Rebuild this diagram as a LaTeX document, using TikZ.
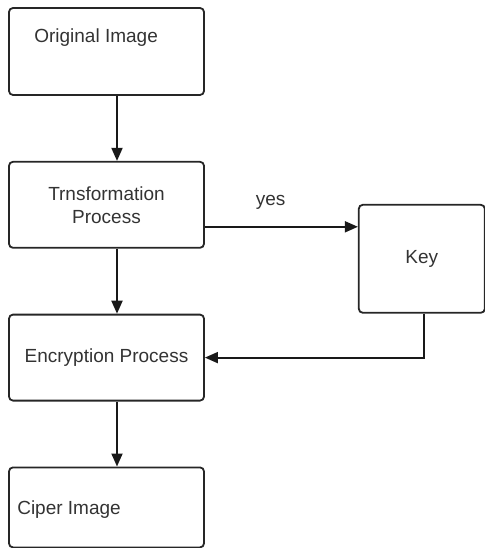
\documentclass[tikz,border=0pt]{standalone}
\usepackage{fontspec}
\setmainfont{Liberation Sans}
\usetikzlibrary{positioning, arrows.meta}

\begin{document}
\begin{tikzpicture}[
x=1pt, y=1pt,
stage/.style={rectangle, rounded corners=4pt, draw=black!85, line width=1.8pt, minimum width=195pt, minimum height=86pt, inner sep=0pt, font=\fontsize{19}{23}\selectfont, align=center, text=black!80},
keybox/.style={stage, minimum width=126pt, minimum height=108pt},
caption/.style={inner sep=0pt, font=\fontsize{19}{23}\selectfont, text=black!80},
flow/.style={-{Triangle[length=13pt,width=11pt]}, line width=1.8pt, draw=black!90},
node distance=65pt
]
\useasboundingbox (0,0) rectangle (484,-548);
%Nodes
\node[stage, minimum height=87pt] (orig)  at (106.5,-51.5)   {};
\node[stage]                      (trans) [below=of orig]    {Trnsformation\\Process};
\node[stage]                      (encr)  [below=of trans]   {Encryption Process};
\node[stage, minimum height=80pt] (ciper) [below=of encr]    {};
\node[keybox]                     (key)   [below right=43pt and 153pt of trans.north east] {Key};

%Texts
\node[caption, anchor=base west] (origtext)  at ([xshift=26pt, yshift=-35pt]orig.north west) {Original Image};
\node[caption, anchor=base west] (cipertext) at ([xshift=9pt, yshift=-7pt]ciper.west)        {Ciper Image};

%Lines
\coordinate (yesstart) at ([yshift=-22pt]trans.east);
\draw[flow] ([xshift=10.5pt]orig.south) -- ([xshift=10.5pt]trans.north);
\draw[flow] ([xshift=10.5pt]trans.south) -- ([xshift=10.5pt]encr.north);
\draw[flow] ([xshift=10.5pt]encr.south) -- ([xshift=10.5pt]ciper.north);
\draw[flow] (yesstart) -- (yesstart -| key.west) node[caption, above=16pt, pos=0.43] {yes};
\draw[flow] ([xshift=2pt]key.south) |- (encr.east);
\end{tikzpicture}
\end{document}
